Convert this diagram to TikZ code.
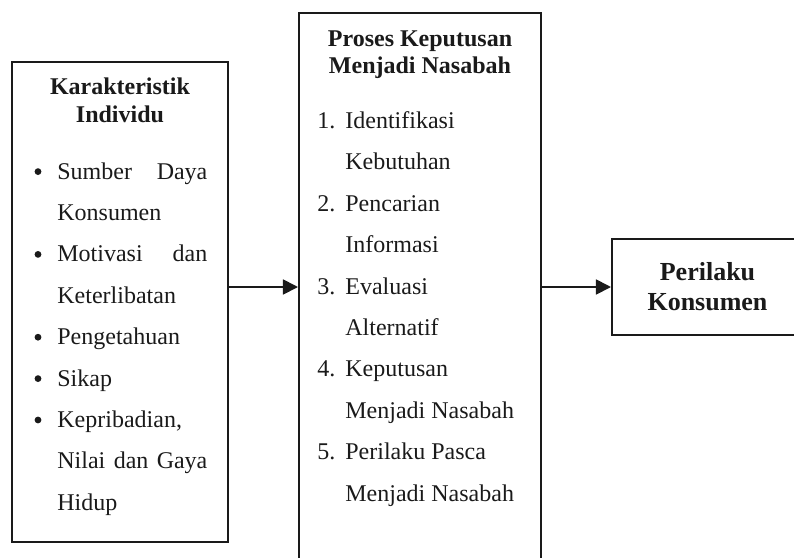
\documentclass[tikz,border=0pt]{standalone}
\usepackage{fontspec}
\setmainfont{Liberation Serif}
\definecolor{Ink}{RGB}{26, 26, 26}
\usetikzlibrary{arrows.meta}

\begin{document}
\begin{tikzpicture}[x=1bp, y=1bp, >={Triangle[length=7.5bp, width=7.5bp]},
    box/.style={draw=Ink, line width=1bp, inner sep=0pt},
    head/.style={Ink, font=\bfseries\fontsize{12bp}{13.8bp}\selectfont, align=center, inner sep=0pt},
    txt/.style={Ink, font=\fontsize{12bp}{20.7bp}\selectfont, inner sep=0pt},
    dotmark/.style={circle, fill=Ink, inner sep=0pt, minimum size=3.4bp},
    link/.style={->, draw=Ink, fill=Ink, line width=0.9bp}]
    % Page: 794 x 558 px, 1 px = 0.5 bp, y grows downward
    \path[use as bounding box, clip] (0,0) rectangle (397,-279);
    % Boxes
    \node[box, minimum width=108bp, minimum height=240bp] (indiv) at (60,-151) {};
    \node[box, minimum width=121bp, minimum height=293bp] (proses) at (210,-153) {};
    \node[box, head, font=\bfseries\fontsize{13bp}{15bp}\selectfont,
        minimum width=95.5bp, minimum height=48bp] (perilaku) at (353.75,-143.5) {Perilaku\\Konsumen};
    % Headings (base = baseline of the last line)
    \node[head, anchor=base] (indivhead) at (60,-61) {Karakteristik\\Individu};
    \node[head, anchor=base] (proseshead) at (210,-36.8) {Proses Keputusan\\Menjadi Nasabah};
    % Karakteristik list (justified lines stretched to 75bp)
    \foreach \isb/\lbl [count=\i from 0] in {1/{\makebox[75bp][s]{Sumber Daya}}, 0/Konsumen,
        1/{\makebox[75bp][s]{Motivasi dan}}, 0/Keterlibatan, 1/Pengetahuan, 1/Sikap,
        1/{Kepribadian,}, 0/{\makebox[75bp][s]{Nilai dan Gaya}}, 0/Hidup} {
        \pgfmathsetmacro{\ypos}{-89.5 - 20.7*\i}
        \node[txt, anchor=base west] (item\i) at (28.5,\ypos) {\lbl};
        \ifnum\isb=1 \node[dotmark] (bullet\i) at (19,\ypos+3.7) {}; \fi
    }
    % Proses list: numbered every second line
    \foreach \lbl [count=\i from 0] in {Identifikasi, Kebutuhan, Pencarian, Informasi,
        Evaluasi, Alternatif, Keputusan, Menjadi Nasabah, Perilaku Pasca, Menjadi Nasabah} {
        \pgfmathsetmacro{\ypos}{-64.2 - 20.7*\i}
        \node[txt, anchor=base west] (stage\i) at (172.5,\ypos) {\lbl};
        \ifodd\i \else
            \pgfmathtruncatemacro{\nr}{\i/2 + 1}
            \node[txt, anchor=base west] (nr\i) at (158.5,\ypos) {\nr.};
        \fi
    }
    % Arrows
    \draw[link] (indiv.east |- perilaku.west) -- (proses.west |- perilaku.west);
    \draw[link] (proses.east |- perilaku.west) -- (perilaku.west);
\end{tikzpicture}
\end{document}
